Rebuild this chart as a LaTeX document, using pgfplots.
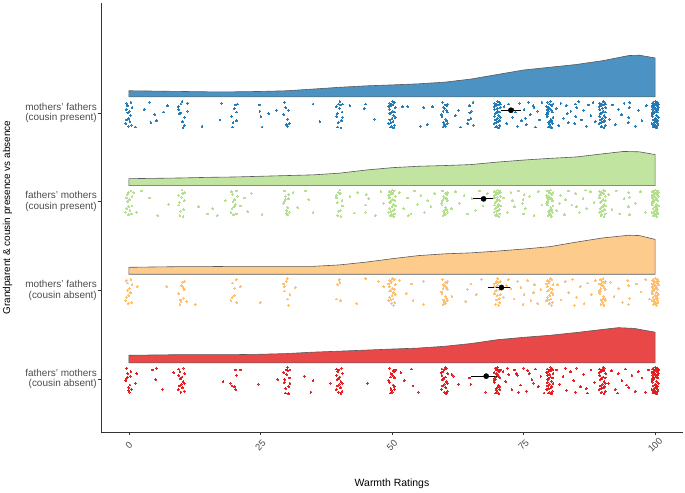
\documentclass[border=0pt]{standalone}
\usepackage{fontspec}
\setmainfont{Liberation Sans}
\usepackage{pgfplots}
\pgfplotsset{compat=1.18}
\definecolor{pblue}{HTML}{1F78B4}
\definecolor{pgreen}{HTML}{B2DF8A}
\definecolor{porange}{HTML}{FDBF6F}
\definecolor{pred}{HTML}{E31A1C}
\newcommand{\tf}{\fontsize{10}{10.7}\selectfont}
\newcommand{\xf}{\fontsize{9.5}{10}\selectfont}
\pgfplotsset{
  vio/.style={draw=black!65, line width=0.6bp, fill=#1, fill opacity=0.8},
  pts/.style={only marks, mark=*, mark size=0.9bp, color=#1, draw=none, fill=#1, mark options={draw=none, fill=#1, line width=0bp}, opacity=0.85},
}
\begin{document}
\begin{tikzpicture}
\begin{axis}[
  scale only axis, width=582bp, height=429bp,
  xmin=-5.3, xmax=105.3, ymin=0.4, ymax=5.24,
  axis x line*=bottom, axis y line*=left,
  axis line style={black!80, line width=0.5bp},
  xtick={0,25,50,75,100}, ytick={1,2,3,4},
  xticklabels={{\xf 0},{\xf 25},{\xf 50},{\xf 75},{\xf 100}},
  yticklabels={{\tf fathers' mothers\\\tf (cousin absent)},{\tf mothers' fathers\\\tf (cousin absent)},{\tf fathers' mothers\\\tf (cousin present)},{\tf mothers' fathers\\\tf (cousin present)}},
  tick align=outside, major tick length=3bp,
  tick style={black!80, line width=0.5bp},
  every tick label/.append style={font=\tf},
  yticklabel style={font=\tf, text=black!70, align=right, inner sep=1bp},
  xticklabel style={font=\xf, text=black!70, rotate=45, anchor=center},
  xticklabel shift=10bp,
  xlabel={Warmth Ratings},
  ylabel={Grandparent \& cousin presence vs absence},
  xlabel style={font=\fontsize{10.5}{12}\selectfont, text=black, at={(rel axis cs:0.5,-0.1212)}, anchor=center},
  ylabel style={font=\fontsize{10}{12}\selectfont, text=black, at={(rel axis cs:-0.1607,0.5)}, anchor=center},
  clip=false,
]
\coordinate (LL) at (rel axis cs:0,0);
\coordinate (UR) at (rel axis cs:1,1);

% ---------- half violins (density heights above baseline) ----------
\addplot[vio=pblue, y filter/.expression={y+4.18}] coordinates {
(0,0)(0,.070)(5,.066)(10,.062)(15,.058)(20,.058)(25,.062)(30,.070)(35,.089)(40,.109)(45,.125)(50,.136)(55,.148)(60,.167)(65,.202)(70,.253)(75,.304)(80,.335)(85,.366)(90,.409)(95,.467)(97,.471)(100,.440)(100,0)} --cycle;
\addplot[vio=pgreen, y filter/.expression={y+3.18}] coordinates {
(0,0)(0,.078)(5,.082)(10,.086)(15,.093)(20,.097)(25,.105)(30,.113)(35,.121)(40,.140)(45,.175)(50,.202)(55,.218)(60,.226)(65,.237)(70,.265)(75,.288)(80,.307)(85,.323)(90,.358)(94,.385)(97,.381)(100,.350)(100,0)} --cycle;
\addplot[vio=porange, y filter/.expression={y+2.18}] coordinates {
(0,0)(0,.078)(5,.082)(10,.086)(15,.086)(20,.089)(25,.089)(30,.089)(35,.089)(40,.105)(45,.136)(50,.175)(55,.210)(60,.230)(65,.241)(70,.261)(75,.284)(80,.311)(85,.362)(90,.409)(95,.440)(97,.436)(100,.393)(100,0)} --cycle;
\addplot[vio=pred, y filter/.expression={y+1.18}] coordinates {
(0,0)(0,.086)(5,.089)(10,.093)(15,.093)(20,.093)(25,.097)(30,.105)(35,.121)(40,.132)(45,.144)(50,.156)(55,.167)(60,.187)(65,.218)(70,.261)(75,.288)(80,.311)(85,.342)(90,.377)(93,.397)(96,.389)(100,.346)(100,0)} --cycle;

% ---------- jittered ratings: mothers' fathers (cousin present) ----------
\addplot[pts=pblue, y filter/.expression={y+4}] coordinates {
(-.5,.11)(.3,-.03)(-.1,-.15)(.6,.06)(-.4,-.08)(.1,.02)(-.6,-.12)(.4,.12)(0,-.06)(-.3,.08)(.5,-.14)(-.2,0)(.2,-.1)(-.5,.04)
(1.2,-.16)(2.9,.04)(3.9,.12)(4.2,-.11)(4.9,-.02)(5.2,-.09)(6.6,.01)(7.3,.08)
(10.5,-.14)(9.8,0)(10.2,-.1)(9.5,.04)(10.6,-.05)(9.9,.1)(10.3,-.17)(9.6,-.01)(10.1,.13)(9.4,.07)(11.2,.11)(11.1,.02)
(13.9,-.15)(17.3,-.08)(17.6,.11)
(20.5,.01)(19.8,-.11)(20.2,.09)(19.7,-.16)(20.4,-.09)(20,.05)(19.5,-.04)(20.6,.1)
(24.8,.09)(25.1,-.04)(25.3,-.16)(24.9,.02)(26.6,-.01)(28,.03)
(29.9,-.13)(30.3,.03)(29.6,.12)(30.2,-.07)(29.8,.06)(30.5,-.12)(29.4,-.02)(30.1,-.15)
(35,.1)(36.3,-.1)
(40.6,-.05)(39.9,.1)(40.3,-.17)(39.6,-.01)(40.1,.13)(39.4,.07)(40.5,.01)(39.8,-.11)(40.2,.09)(39.7,-.16)(40.4,-.09)(40,.05)(39.5,-.04)(40.6,.1)
(42,.08)(44.7,.05)(45,.1)(46.7,-.07)
(49.5,.11)(50.3,-.03)(49.9,-.15)(50.6,.06)(49.6,-.08)(50.1,.02)(49.4,-.12)(50.4,.12)(50,-.06)(49.7,.08)(50.5,-.14)(49.8,0)(50.2,-.1)(49.5,.04)(50.6,-.05)(49.9,.1)(50.3,-.17)(49.6,-.01)(50.1,.13)(49.4,.07)(50.5,.01)(49.8,-.11)(50.2,.09)(49.7,-.16)
(52,.07)(53,.07)(55.4,-.15)(56,.06)(56.7,-.13)(57.7,.07)
(60.5,.01)(59.8,-.11)(60.2,.09)(59.7,-.16)(60.4,-.09)(60,.05)(59.5,-.04)(60.6,.1)(59.9,-.13)(60.3,.03)(59.6,.12)(60.2,-.07)(59.8,.06)(60.5,-.12)(59.4,-.02)(60.1,-.15)(59.7,.02)(60.4,.08)
(62,-.03)(62.7,.03)(63,-.16)
(64.6,-.08)(65.1,.02)(64.4,-.12)(65.4,.12)(65,-.06)(64.7,.08)(65.5,-.14)(64.8,0)
(69.5,.11)(70.3,-.03)(69.9,-.15)(70.6,.06)(69.6,-.08)(70.1,.02)(69.4,-.12)(70.4,.12)(70,-.06)(69.7,.08)(70.5,-.14)(69.8,0)(70.2,-.1)(69.5,.04)(70.6,-.05)(69.9,.1)(70.3,-.17)(69.6,-.01)(70.1,.13)(69.4,.07)(70.5,.01)(69.8,-.11)(70.2,.09)(69.7,-.16)(70.4,-.09)(70,.05)(69.5,-.04)(70.6,.1)
(71.3,.07)(71.8,-.12)(72.2,.1)(72.9,-.05)(73.4,.01)(73.8,-.15)(74.2,.11)(74.6,-.09)(75.1,.04)(75.5,-.13)(75.9,.12)(76.3,-.02)(76.8,.08)(77.2,-.16)(77.7,.02)(78.1,-.08)(78.5,.12)(73,.04)(75.3,-.06)(77,.06)
(80.2,-.1)(79.5,.04)(80.6,-.05)(79.9,.1)(80.3,-.17)(79.6,-.01)(80.1,.13)(79.4,.07)(80.5,.01)(79.8,-.11)(80.2,.09)(79.7,-.16)(80.4,-.09)(80,.05)(79.5,-.04)(80.6,.1)(79.9,-.13)(80.3,.03)(79.6,.12)(80.2,-.07)(79.8,.06)(80.5,-.12)(79.4,-.02)(80.1,-.15)(79.7,.02)(80.4,.08)(80,-.1)(79.5,0)
(81.2,.05)(81.7,-.14)(82.1,.11)(82.6,-.06)(83.1,.08)(83.5,-.11)(84,.02)(84.8,.1)(84.9,-.04)(85.1,.06)(84.7,-.12)(85.5,.13)(86,-.08)(86.4,.03)(86.9,-.15)(87.3,.09)(87.8,-.03)(88.2,.12)(88.6,-.1)(83.3,-.01)
(89.5,.11)(90.3,-.03)(89.9,-.15)(90.6,.06)(89.6,-.08)(90.1,.02)(89.4,-.12)(90.4,.12)(90,-.06)(89.7,.08)(90.5,-.14)(89.8,0)(90.2,-.1)(89.5,.04)(90.6,-.05)(89.9,.1)(90.3,-.17)(89.6,-.01)(90.1,.13)(89.4,.07)(90.5,.01)(89.8,-.11)(90.2,.09)(89.7,-.16)(90.4,-.09)(90,.05)(89.5,-.04)(90.6,.1)
(91.3,-.07)(91.9,.09)(92.4,-.13)(93,.04)(93.6,-.02)(94.1,.11)(94.9,-.11)(95.1,.06)(95,-.05)(95.2,.12)(96.2,-.15)(96.8,.03)(97.5,-.09)(98.3,.08)
(99.5,.11)(100.3,-.03)(99.9,-.15)(100.6,.06)(99.6,-.08)(100.1,.02)(99.4,-.12)(100.4,.12)(100,-.06)(99.7,.08)(100.5,-.14)(99.8,0)(100.2,-.1)(99.5,.04)(100.6,-.05)(99.9,.1)(100.3,-.17)(99.6,-.01)(100.1,.13)(99.4,.07)(100.5,.01)(99.8,-.11)(100.2,.09)(99.7,-.16)(100.4,-.09)(100,.05)(99.5,-.04)(100.6,.1)(99.9,-.13)(100.3,.03)(99.6,.12)(100.2,-.07)(99.8,.06)(100.5,-.12)(99.4,-.02)(100.1,-.15)(99.7,.02)(100.4,.08)(100,-.1)(99.5,0)(100.2,.11)(99.6,-.14)(100.5,.04)(99.9,-.07)(100.3,.12)
};

% ---------- fathers' mothers (cousin present) ----------
\addplot[pts=pgreen, y filter/.expression={y+3}] coordinates {
(-.1,-.15)(.6,.06)(-.4,-.08)(.1,.02)(-.6,-.12)(.4,.12)(0,-.06)(-.3,.08)(.5,-.14)(-.2,0)(.2,-.1)(-.5,.04)(.6,-.05)(-.1,.1)
(.9,.1)(1.5,-.12)(3.9,.04)(5.5,-.16)(7.6,-.03)(2.4,.12)
(10.3,-.17)(9.6,-.01)(10.1,.13)(9.4,.07)(10.5,.01)(9.8,-.11)(10.2,.09)(9.7,-.16)(10.4,-.09)(10,.05)(9.5,-.04)(10.6,.1)
(13.2,-.06)(14.9,-.14)(15.9,-.08)(18.3,.01)(16.8,-.16)
(19.5,.11)(20.3,-.03)(19.9,-.15)(20.6,.06)(19.6,-.08)(20.1,.02)(19.4,-.12)(20.4,.12)(20,-.06)(19.7,.08)(20.5,-.14)(19.8,0)
(21.2,-.05)(21.9,.04)(22.6,-.11)(23.3,.09)(25.3,-.15)
(29.9,-.13)(30.3,.03)(29.6,.12)(30.2,-.07)(29.8,.06)(30.5,-.12)(29.4,-.02)(30.1,-.15)(29.7,.02)(30.4,.08)(30,-.1)(29.5,0)
(31.2,.1)(32.1,-.07)(33.6,.12)(35,-.12)(34.2,.02)
(40.2,-.1)(39.5,.04)(40.6,-.05)(39.9,.1)(40.3,-.17)(39.6,-.01)(40.1,.13)(39.4,.07)(40.5,.01)(39.8,-.11)(40.2,.09)(39.7,-.16)
(42,.06)(42.8,-.13)(43.5,.1)(44.9,-.04)(45.1,.08)(45,-.12)(45.6,.03)(46.8,-.16)(47.9,.11)(48.4,-.02)
(49.5,.11)(50.3,-.03)(49.9,-.15)(50.6,.06)(49.6,-.08)(50.1,.02)(49.4,-.12)(50.4,.12)(50,-.06)(49.7,.08)(50.5,-.14)(49.8,0)(50.2,-.1)(49.5,.04)(50.6,-.05)(49.9,.1)(50.3,-.17)(49.6,-.01)(50.1,.13)(49.4,.07)(50.5,.01)(49.8,-.11)(50.2,.09)(49.7,-.16)(50.4,-.09)
(51.4,.1)(52.2,-.08)(52.9,.04)(53.6,-.14)(54.3,.12)(54.9,-.03)(55.5,.07)(56.2,-.12)(56.8,.01)(57.4,-.06)(58.1,.09)(53.1,-.16)
(60.5,.01)(59.8,-.11)(60.2,.09)(59.7,-.16)(60.4,-.09)(60,.05)(59.5,-.04)(60.6,.1)(59.9,-.13)(60.3,.03)(59.6,.12)(60.2,-.07)(59.8,.06)(60.5,-.12)(59.4,-.02)(60.1,-.15)(59.7,.02)(60.4,.08)(60,-.1)(59.5,0)
(61.3,-.08)(62.1,.11)(62.8,-.02)(63.7,.07)(64.4,-.14)(65.2,.03)(65.9,-.1)(66.6,.12)(67.3,-.05)(68.1,.09)
(69.5,.11)(70.3,-.03)(69.9,-.15)(70.6,.06)(69.6,-.08)(70.1,.02)(69.4,-.12)(70.4,.12)(70,-.06)(69.7,.08)(70.5,-.14)(69.8,0)(70.2,-.1)(69.5,.04)(70.6,-.05)(69.9,.1)(70.3,-.17)(69.6,-.01)(70.1,.13)(69.4,.07)(70.5,.01)(69.8,-.11)(70.2,.09)(69.7,-.16)(70.4,-.09)(70,.05)(69.5,-.04)(70.6,.1)
(71.2,.04)(71.9,-.12)(72.6,.1)(73.3,-.06)(74,.12)(74.8,-.02)(75.1,.08)(75,-.14)(74.9,.02)(75.3,-.08)(76.2,.06)(77,-.16)(77.8,.11)(78.5,-.04)(72.9,.01)
(80.2,-.1)(79.5,.04)(80.6,-.05)(79.9,.1)(80.3,-.17)(79.6,-.01)(80.1,.13)(79.4,.07)(80.5,.01)(79.8,-.11)(80.2,.09)(79.7,-.16)(80.4,-.09)(80,.05)(79.5,-.04)(80.6,.1)(79.9,-.13)(80.3,.03)(79.6,.12)(80.2,-.07)(79.8,.06)(80.5,-.12)(79.4,-.02)(80.1,-.15)(79.7,.02)(80.4,.08)(80,-.1)(79.5,0)
(81.3,-.1)(82,.07)(82.8,-.15)(83.5,.12)(84.2,-.04)(84.9,.09)(85.6,-.12)(86.3,.03)(87,-.08)(87.7,.11)(88.4,-.01)(85.1,-.06)(83,.02)(86.8,.13)(81.8,-.02)
(89.5,.11)(90.3,-.03)(89.9,-.15)(90.6,.06)(89.6,-.08)(90.1,.02)(89.4,-.12)(90.4,.12)(90,-.06)(89.7,.08)(90.5,-.14)(89.8,0)(90.2,-.1)(89.5,.04)(90.6,-.05)(89.9,.1)(90.3,-.17)(89.6,-.01)(90.1,.13)(89.4,.07)(90.5,.01)(89.8,-.11)(90.2,.09)(89.7,-.16)(90.4,-.09)
(91.2,.08)(91.8,-.09)(92.6,.12)(93.3,-.14)(94.1,.03)(95,.1)(94.9,-.06)(95.1,-.15)(95.2,.05)(96.3,-.02)(97.2,.11)(98.1,-.12)
(99.5,.11)(100.3,-.03)(99.9,-.15)(100.6,.06)(99.6,-.08)(100.1,.02)(99.4,-.12)(100.4,.12)(100,-.06)(99.7,.08)(100.5,-.14)(99.8,0)(100.2,-.1)(99.5,.04)(100.6,-.05)(99.9,.1)(100.3,-.17)(99.6,-.01)(100.1,.13)(99.4,.07)(100.5,.01)(99.8,-.11)(100.2,.09)(99.7,-.16)(100.4,-.09)(100,.05)(99.5,-.04)(100.6,.1)(99.9,-.13)(100.3,.03)(99.6,.12)(100.2,-.07)(99.8,.06)(100.5,-.12)(99.4,-.02)(100.1,-.15)(99.7,.02)(100.4,.08)(100,-.1)(99.5,0)
};

% ---------- mothers' fathers (cousin absent) ----------
\addplot[pts=porange, y filter/.expression={y+2}] coordinates {
(-.5,.11)(.3,-.03)(-.1,-.15)(.6,.06)(-.4,-.08)(.1,.02)(-.6,-.12)(.4,.12)(0,-.06)(-.3,.08)(.5,-.14)(-.2,0)
(1.6,.04)(7.2,.04)
(10.5,.01)(9.8,-.11)(10.2,.09)(9.7,-.16)(10.4,-.09)(10,.05)(9.5,-.04)(10.6,.1)(9.9,-.13)(10.3,.03)
(11,-.13)(12.6,-.16)
(19.6,-.08)(20.1,.02)(19.4,-.12)(20.4,.12)(20,-.06)(19.7,.08)(20.5,-.14)
(21.2,.04)(25,-.14)
(30.2,-.1)(29.5,.04)(30.6,-.05)(29.9,.1)(30.3,-.17)(29.6,-.01)(30.1,.13)(29.4,.07)
(31.6,.03)
(40,.12)(39.7,.06)(39.4,-.1)(40.2,-.12)(40.1,.09)
(43.3,-.15)(45,.13)
(49.5,.11)(50.3,-.03)(49.9,-.15)(50.6,.06)(49.6,-.08)(50.1,.02)(49.4,-.12)(50.4,.12)(50,-.06)(49.7,.08)(50.5,-.14)(49.8,0)(50.2,-.1)(49.5,.04)(50.6,-.05)(49.9,.1)(50.3,-.17)(49.6,-.01)(50.1,.13)(49.4,.07)(50.5,.01)(49.8,-.11)
(47.4,.1)(48.4,.04)(51.4,.11)(52.7,-.04)(53.7,.07)(54,-.12)(56,.1)(56,-.16)
(60.5,.01)(59.8,-.11)(60.2,.09)(59.7,-.16)(60.4,-.09)(60,.05)(59.5,-.04)(60.6,.1)(59.9,-.13)(60.3,.03)(59.6,.12)(60.2,-.07)(59.8,.06)(60.5,-.12)(59.4,-.02)(60.1,-.15)(59.7,.02)(60.4,.08)
(61.4,-.07)(64,-.13)(64.3,.01)(65,.07)(66,-.05)(67,.12)
(70,-.06)(69.7,.08)(70.5,-.14)(69.8,0)(70.2,-.1)(69.5,.04)(70.6,-.05)(69.9,.1)(70.3,-.17)(69.6,-.01)(70.1,.13)(69.4,.07)(70.5,.01)(69.8,-.11)(70.2,.09)(69.7,-.16)(70.4,-.09)(70,.05)(69.5,-.04)(70.6,.1)
(71.2,-.08)(71.8,.05)(72.6,.02)(73.2,-.1)(73.9,.1)(74.5,.03)(75.1,-.05)(75.8,.11)(76.4,-.12)(77.1,.06)(77.7,-.15)(78.3,.01)(72.1,.12)(74.9,-.16)(76.9,-.03)
(79.5,.11)(80.3,-.03)(79.9,-.15)(80.6,.06)(79.6,-.08)(80.1,.02)(79.4,-.12)(80.4,.12)(80,-.06)(79.7,.08)(80.5,-.14)(79.8,0)(80.2,-.1)(79.5,.04)(80.6,-.05)(79.9,.1)(80.3,-.17)(79.6,-.01)(80.1,.13)(79.4,.07)(80.5,.01)(79.8,-.11)
(81.4,.06)(82.1,-.11)(82.9,.1)(83.6,-.03)(84.3,.12)(85.1,-.08)(85.8,.04)(86.5,-.15)(87.2,.08)(87.9,-.05)(88.6,.11)(84.7,-.17)
(89.9,.1)(90.3,-.17)(89.6,-.01)(90.1,.13)(89.4,.07)(90.5,.01)(89.8,-.11)(90.2,.09)(89.7,-.16)(90.4,-.09)(90,.05)(89.5,-.04)(90.6,.1)(89.9,-.13)(90.3,.03)(89.6,.12)(90.2,-.07)(89.8,.06)(90.5,-.12)(89.4,-.02)(90.1,-.15)(89.7,.02)(90.4,.08)(90,-.1)(89.5,0)
(91.5,.09)(92.2,-.07)(93.1,.02)(93.8,-.14)(94.8,.11)(95,.05)(95.2,-.09)(94.9,-.16)(96.4,.07)(97.3,-.02)(98.2,.12)(98.9,-.1)
(99.5,.11)(100.3,-.03)(99.9,-.15)(100.6,.06)(99.6,-.08)(100.1,.02)(99.4,-.12)(100.4,.12)(100,-.06)(99.7,.08)(100.5,-.14)(99.8,0)(100.2,-.1)(99.5,.04)(100.6,-.05)(99.9,.1)(100.3,-.17)(99.6,-.01)(100.1,.13)(99.4,.07)(100.5,.01)(99.8,-.11)(100.2,.09)(99.7,-.16)(100.4,-.09)(100,.05)(99.5,-.04)(100.6,.1)(99.9,-.13)(100.3,.03)(99.6,.12)(100.2,-.07)(99.8,.06)(100.5,-.12)(99.4,-.02)(100.1,-.15)(99.7,.02)(100.4,.08)(100,-.1)(99.5,0)
};

% ---------- fathers' mothers (cousin absent) ----------
\addplot[pts=pred, y filter/.expression={y+1}] coordinates {
(-.1,-.13)(.3,.03)(-.4,.12)(.2,-.07)(-.2,.06)(.5,-.12)(-.6,-.02)(.1,-.15)(-.3,.02)(.4,.08)(0,-.1)(-.5,0)
(1.5,.06)(1.2,-.05)(4.5,.1)(5.2,.12)(5.1,-.01)(6.4,-.12)
(9.5,.11)(10.3,-.03)(9.9,-.15)(10.6,.06)(9.6,-.08)(10.1,.02)(9.4,-.12)(10.4,.12)(10,-.06)(9.7,.08)(10.5,-.14)(9.8,0)(10.2,-.1)(9.5,.04)(10.6,-.05)
(8.5,.07)
(17.9,-.03)(19.3,-.05)(19.6,-.08)(20.3,-.12)(20.1,-.09)(20.2,.1)(21.2,.1)(20.4,.04)
(24.6,-.06)
(30.6,-.05)(29.9,.1)(30.3,-.17)(29.6,-.01)(30.1,.13)(29.4,.07)(30.5,.01)(29.8,-.11)(30.2,.09)(29.7,-.16)(30.4,-.09)(30,.05)(29.5,-.04)(30.6,.1)
(28.3,-.01)(33.3,.03)(34.6,-.15)(35,-.02)
(39.5,.11)(40.3,-.03)(39.9,-.15)(40.6,.06)(39.6,-.08)(40.1,.02)(39.4,-.12)(40.4,.12)(40,-.06)(39.7,.08)(40.5,-.14)(39.8,0)(40.2,-.1)(39.5,.04)(40.6,-.05)(39.9,.1)(40.3,-.17)(39.6,-.01)
(38.3,-.05)(45.4,-.05)
(50.5,.01)(49.8,-.11)(50.2,.09)(49.7,-.16)(50.4,-.09)(50,.05)(49.5,-.04)(50.6,.1)(49.9,-.13)(50.3,.03)(49.6,.12)(50.2,-.07)(49.8,.06)(50.5,-.12)(49.4,-.02)(50.1,-.15)(49.7,.02)(50.4,.08)
(51.7,.07)(53.7,.11)(54,-.08)(55,-.15)(52.3,-.02)
(59.5,.11)(60.3,-.03)(59.9,-.15)(60.6,.06)(59.6,-.08)(60.1,.02)(59.4,-.12)(60.4,.12)(60,-.06)(59.7,.08)(60.5,-.14)(59.8,0)(60.2,-.1)(59.5,.04)(60.6,-.05)(59.9,.1)(60.3,-.17)(59.6,-.01)(60.1,.13)(59.4,.07)
(61.4,.05)(61.7,.03)(62.7,-.06)(64.7,.01)(65,-.06)(67.8,-.15)
(69.9,.1)(70.3,-.17)(69.6,-.01)(70.1,.13)(69.4,.07)(70.5,.01)(69.8,-.11)(70.2,.09)(69.7,-.16)(70.4,-.09)(70,.05)(69.5,-.04)(70.6,.1)(69.9,-.13)(70.3,.03)(69.6,.12)(70.2,-.07)(69.8,.06)(70.5,-.12)(69.4,-.02)(70.1,-.15)(69.7,.02)(70.4,.08)(70,-.1)(69.5,0)
(71.1,.08)(71.6,-.03)(72.2,.05)(72.8,-.12)(73.3,.1)(73.9,.04)(74.4,-.07)(75,.12)(75.5,-.14)(76.1,.06)(76.6,-.01)(77.2,.11)(77.8,-.09)(78.3,.03)(78.9,-.16)(71.9,.12)(74.1,-.15)(76.9,-.05)(73.6,.06)(75.8,.09)
(79.5,.11)(80.3,-.03)(79.9,-.15)(80.6,.06)(79.6,-.08)(80.1,.02)(79.4,-.12)(80.4,.12)(80,-.06)(79.7,.08)(80.5,-.14)(79.8,0)(80.2,-.1)(79.5,.04)(80.6,-.05)(79.9,.1)(80.3,-.17)(79.6,-.01)(80.1,.13)(79.4,.07)(80.5,.01)(79.8,-.11)(80.2,.09)(79.7,-.16)(80.4,-.09)(80,.05)(79.5,-.04)(80.6,.1)
(81.2,.1)(81.9,-.06)(82.5,.03)(83.2,-.13)(83.9,.08)(84.5,-.02)(85.1,.12)(85.8,-.09)(86.4,.05)(87.1,-.16)(87.8,.1)(88.5,-.04)(82.9,.12)(86.9,-.11)(84.8,-.15)
(89.5,.11)(90.3,-.03)(89.9,-.15)(90.6,.06)(89.6,-.08)(90.1,.02)(89.4,-.12)(90.4,.12)(90,-.06)(89.7,.08)(90.5,-.14)(89.8,0)(90.2,-.1)(89.5,.04)(90.6,-.05)(89.9,.1)(90.3,-.17)(89.6,-.01)(90.1,.13)(89.4,.07)(90.5,.01)(89.8,-.11)(90.2,.09)(89.7,-.16)(90.4,-.09)
(91.1,-.05)(91.7,.09)(92.4,-.12)(93,.06)(93.7,-.02)(94.3,.11)(95,-.1)(95.6,.04)(96.2,-.14)(96.8,.08)(97.5,.01)(98.1,-.15)(98.7,.1)(94.6,-.07)(92.9,-.16)
(99.5,.11)(100.3,-.03)(99.9,-.15)(100.6,.06)(99.6,-.08)(100.1,.02)(99.4,-.12)(100.4,.12)(100,-.06)(99.7,.08)(100.5,-.14)(99.8,0)(100.2,-.1)(99.5,.04)(100.6,-.05)(99.9,.1)(100.3,-.17)(99.6,-.01)(100.1,.13)(99.4,.07)(100.5,.01)(99.8,-.11)(100.2,.09)(99.7,-.16)(100.4,-.09)(100,.05)(99.5,-.04)(100.6,.1)(99.9,-.13)(100.3,.03)(99.6,.12)(100.2,-.07)(99.8,.06)(100.5,-.12)(99.4,-.02)(100.1,-.15)(99.7,.02)(100.4,.08)(100,-.1)(99.5,0)(100.2,.11)(99.6,-.14)(100.5,.04)(99.9,-.07)(100.3,.12)
};

% ---------- means with intervals ----------
\addplot[black, line width=0.8bp] coordinates {(70.7,4.03)(74.6,4.03)};
\addplot[black, line width=0.8bp] coordinates {(65.4,3.03)(69.4,3.03)};
\addplot[black, line width=0.8bp] coordinates {(68.2,2.03)(72.7,2.03)};
\addplot[black, line width=0.8bp] coordinates {(65.1,1.03)(70.0,1.03)};
\addplot[only marks, mark=*, mark size=2.6bp, black] coordinates {(72.6,4.03)(67.4,3.03)(70.8,2.03)(67.9,1.03)};
\end{axis}
\pgfresetboundingbox
\path ([shift={(-101bp,-61bp)}]LL) rectangle ([shift={(2bp,3bp)}]UR);
\end{tikzpicture}
\end{document}
